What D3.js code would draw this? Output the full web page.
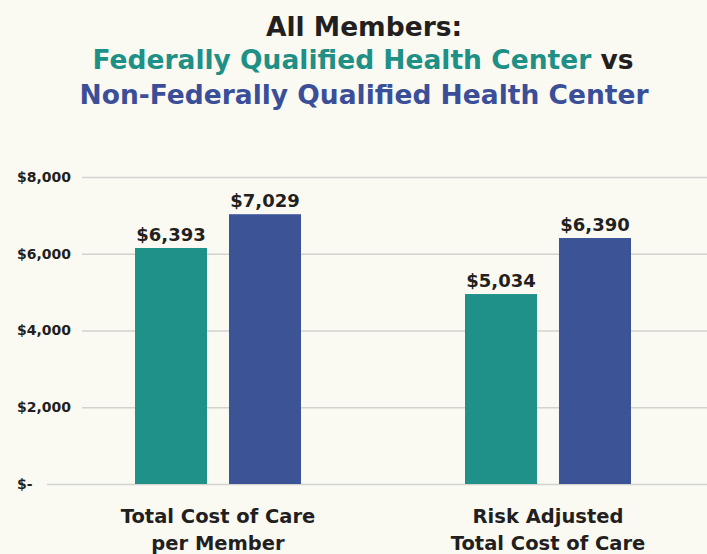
<!DOCTYPE html>
<html>
<head>
<meta charset="utf-8">
<script src="https://cdn.jsdelivr.net/npm/d3@7"></script>
<style>
  body { margin: 0; background: #fafaf3; }
  svg { display: block; font-family: "DejaVu Sans", sans-serif; }
</style>
</head>
<body>
<div id="vis"></div>
<script>
// chart data
var categories = ["Total Cost of Care|per Member", "Risk Adjusted|Total Cost of Care"];
var series = ["FQHC", "Non-FQHC"];
// bar heights as drawn in the picture
var fqhcValues = [6150, 4950];
var nonFqhcValues = [7030, 6410];
// printed labels above each bar
var fqhcLabels = ["$6,393", "$5,034"];
var nonFqhcLabels = ["$7,029", "$6,390"];
var tickValues = [0, 2000, 4000, 6000, 8000];
var tickLabels = ["$-", "$2,000", "$4,000", "$6,000", "$8,000"];

var colours = { "FQHC": "#1f9189", "Non-FQHC": "#3c5396" };
var textColour = "#231f20";

var width = 707, height = 554;

var svg = d3.select("#vis").append("svg")
    .attr("width", width)
    .attr("height", height);

// title
var title = svg.append("g").attr("class", "title")
    .attr("text-anchor", "middle")
    .style("font-weight", "bold")
    .style("font-size", "26.5px");

title.append("text").attr("x", 364).attr("y", 36)
    .attr("fill", textColour).text("All Members:");
var t2 = title.append("text").attr("x", 363).attr("y", 69);
t2.append("tspan").attr("fill", "#1e9086").text("Federally Qualified Health Center");
t2.append("tspan").attr("fill", textColour).text(" vs");
title.append("text").attr("x", 364).attr("y", 104)
    .attr("fill", "#3b4f99").text("Non-Federally Qualified Health Center");

// scales
var y = d3.scaleLinear().domain([0, 8000]).range([484, 177]);
var x0 = d3.scaleBand().domain(categories).range([53, 713]);
var x1 = d3.scaleBand().domain(series).range([-83, 83]).paddingInner(0.234);

// y axis + gridlines
var axisLeft = 82;
var yAxis = d3.axisLeft(y)
    .tickValues(tickValues)
    .tickSize(-(width - axisLeft))
    .tickPadding(11)
    .tickFormat(function(d, i){ return tickLabels[i]; });

var gy = svg.append("g")
    .attr("transform", "translate(" + axisLeft + ",0)")
    .call(yAxis);
gy.select(".domain").remove();
gy.selectAll(".tick line").attr("stroke", "#d2d2d0").attr("stroke-width", 1.3);
gy.selectAll(".tick text")
    .attr("fill", textColour)
    .style("font-family", "\"DejaVu Sans\", sans-serif")
    .style("font-size", "14px")
    .style("font-weight", "bold");
// zero line runs further left, and "$-" sits at the left like accounting format
gy.selectAll(".tick").filter(function(d){ return d === 0; })
    .each(function(){
        var t = d3.select(this);
        t.select("line").attr("x1", 47 - axisLeft);
        t.select("text").attr("text-anchor", "start").attr("x", 17 - axisLeft);
    });

// bars
var rows = categories.map(function(c, i){
    return [
        { cat: c, s: "FQHC", v: fqhcValues[i], label: fqhcLabels[i] },
        { cat: c, s: "Non-FQHC", v: nonFqhcValues[i], label: nonFqhcLabels[i] }
    ];
});

var groups = svg.selectAll(".group").data(rows).enter()
    .append("g")
    .attr("class", "group")
    .attr("transform", function(d, i){ return "translate(" + (x0(categories[i]) + x0.bandwidth() / 2) + ",0)"; });

groups.selectAll("rect").data(function(d){ return d; }).enter()
    .append("rect")
    .attr("x", function(d){ return x1(d.s); })
    .attr("width", x1.bandwidth())
    .attr("y", function(d){ return y(d.v); })
    .attr("height", function(d){ return y(0) - y(d.v); })
    .attr("fill", function(d){ return colours[d.s]; });

groups.selectAll(".val").data(function(d){ return d; }).enter()
    .append("text")
    .attr("class", "val")
    .attr("text-anchor", "middle")
    .attr("x", function(d){ return x1(d.s) + x1.bandwidth() / 2; })
    .attr("y", function(d){ return y(d.v) - 7; })
    .attr("fill", textColour)
    .style("font-size", "18px")
    .style("font-weight", "bold")
    .text(function(d){ return d.label; });

// category labels
groups.append("text")
    .attr("text-anchor", "middle")
    .attr("fill", textColour)
    .style("font-size", "19.5px")
    .style("font-weight", "bold")
    .selectAll("tspan")
    .data(function(d, i){ return categories[i].split("|"); })
    .enter()
    .append("tspan")
    .attr("x", 0)
    .attr("y", function(d, i){ return 523 + i * 27; })
    .text(function(d){ return d; });
</script>
</body>
</html>
